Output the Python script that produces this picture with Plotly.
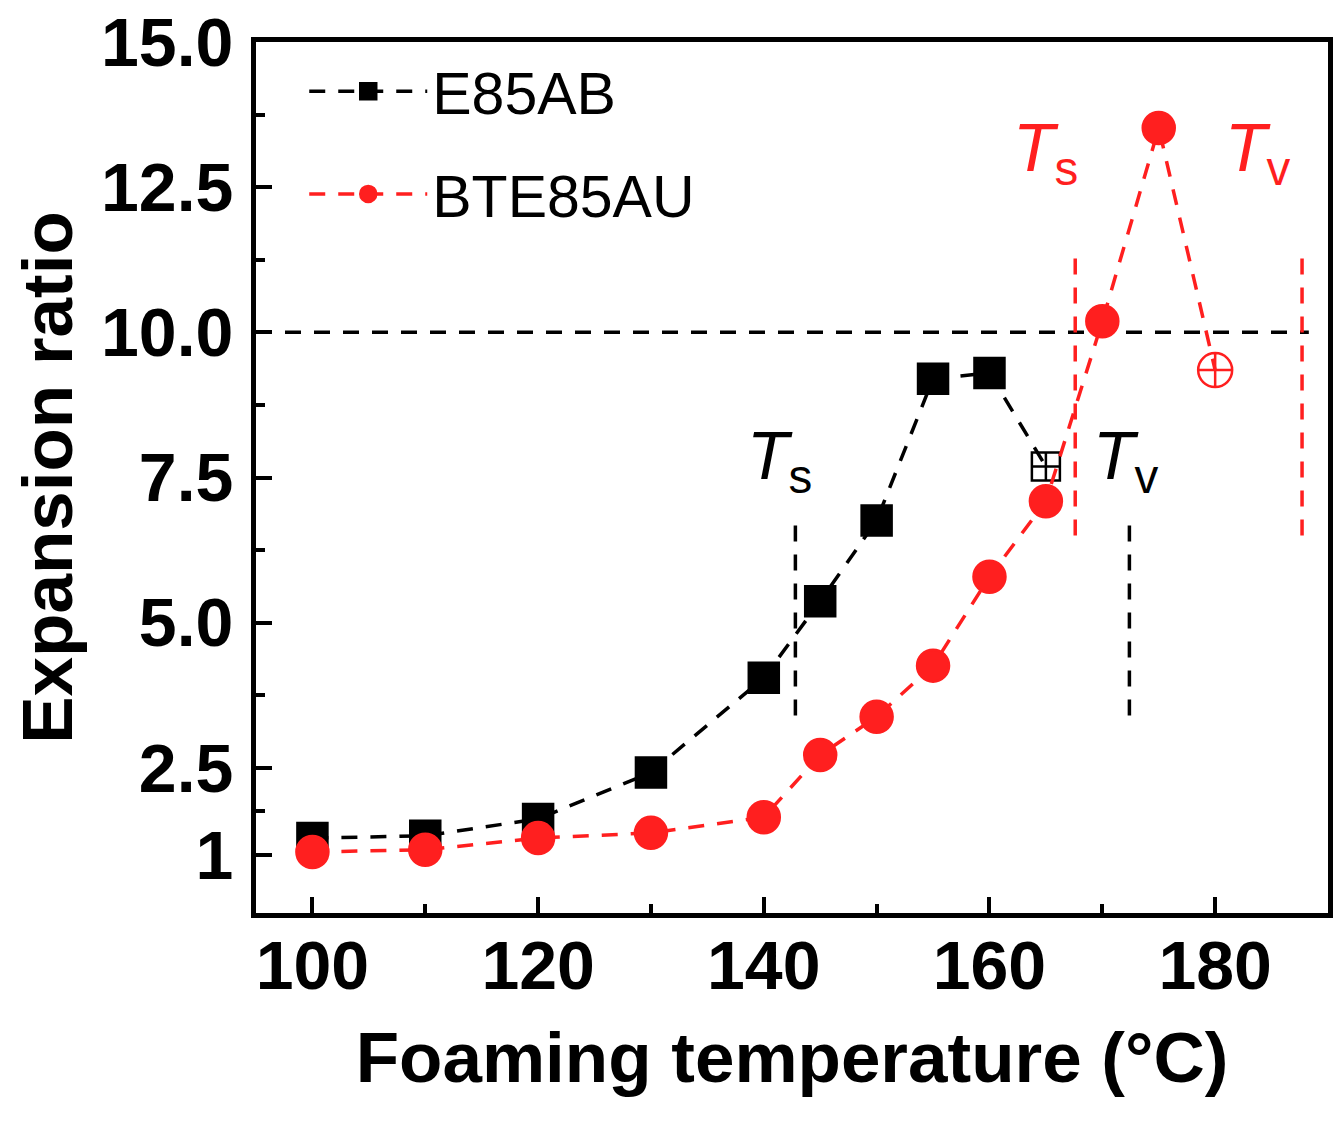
import plotly.graph_objects as go

# foaming temperature (°C)
temp_ab = [100, 110, 120, 130, 140, 145, 150, 155, 160, 165]
ratio_ab = [1.29, 1.33, 1.62, 2.42, 4.05, 5.37, 6.76, 9.2, 9.3, 7.69]

temp_au = [100, 110, 120, 130, 140, 145, 150, 155, 160, 165, 170, 175, 180]
ratio_au = [1.05, 1.09, 1.29, 1.38, 1.65, 2.72, 3.38, 4.26, 5.79, 7.09, 10.19, 13.52, 9.35]

# processing window markers (Ts, Tv)
window_ab = [142.8, 172.4]
window_ab_y = [3.4, 6.7]
window_au = [167.6, 187.7]
window_au_y = [6.5, 11.3]
threshold = 10.0

y_ticks = [1, 2.5, 5.0, 7.5, 10.0, 12.5, 15.0]
y_ticktext = ["1", "2.5", "5.0", "7.5", "10.0", "12.5", "15.0"]
x_ticks = [100, 120, 140, 160, 180]

RED = "#FF1F1F"
FONT = "Liberation Sans, Arial, sans-serif"
DASH = "16px,13px"

sym_ab = ["square"] * (len(temp_ab) - 1) + ["square-cross-open"]
sym_au = ["circle"] * (len(temp_au) - 1) + ["circle-cross-open"]
size_ab = [30] * (len(temp_ab) - 1) + [28]
size_au = [32] * (len(temp_au) - 1) + [34]

fig = go.Figure()

fig.add_trace(go.Scatter(
    x=temp_ab, y=ratio_ab, name="E85AB", mode="lines+markers",
    legendgroup="a",
    line=dict(color="black", width=3.5, dash=DASH),
    marker=dict(symbol=sym_ab, size=size_ab, color="black", opacity=1,
                line=dict(color="black", width=2.5)),
))
fig.add_trace(go.Scatter(
    x=temp_au, y=ratio_au, name="BTE85AU", mode="lines+markers",
    legendgroup="b",
    line=dict(color=RED, width=3.5, dash=DASH),
    marker=dict(symbol=sym_au, size=size_au, color=RED, opacity=1,
                line=dict(color=RED, width=2.5)),
))

# horizontal threshold line
fig.add_shape(type="line", x0=95, x1=188.3, y0=threshold, y1=threshold,
              xref="x", yref="y", layer="below",
              line=dict(color="black", width=3.5, dash=DASH))

for xv in window_ab:
    fig.add_shape(type="line", x0=xv, x1=xv, y0=window_ab_y[0], y1=window_ab_y[1],
                  xref="x", yref="y",
                  line=dict(color="black", width=3.5, dash=DASH))
for xv in window_au:
    fig.add_shape(type="line", x0=xv, x1=xv, y0=window_au_y[0], y1=window_au_y[1],
                  xref="x", yref="y",
                  line=dict(color=RED, width=3.5, dash=DASH))

labels = [
    (141.4, 7.8, "<i>T</i><sub>s</sub>", "black"),
    (172.1, 7.8, "<i>T</i><sub>v</sub>", "black"),
    (165.0, 13.1, "<i>T</i><sub>s</sub>", RED),
    (183.8, 13.1, "<i>T</i><sub>v</sub>", RED),
]
for lx, ly, txt, col in labels:
    fig.add_annotation(x=lx, y=ly, text=txt, showarrow=False,
                       font=dict(family=FONT, size=68, color=col))

axis_common = dict(
    showline=True, linecolor="black", linewidth=5, mirror=True,
    ticks="inside", ticklen=16, tickwidth=4, tickcolor="black",
    showgrid=False, zeroline=False, ticklabeloverflow="allow",
    automargin=False,
    tickfont=dict(family=FONT, size=68, color="black", weight="bold"),
    title_font=dict(family=FONT, size=71, color="black", weight="bold"),
    minor=dict(ticks="inside", ticklen=9, tickwidth=4, tickcolor="black"),
)

fig.update_xaxes(
    range=[95, 190], tickvals=x_ticks,
    minor_tickvals=[110, 130, 150, 170, 190],
    title_text="Foaming temperature (°C)", title_standoff=32,
    ticklabelstandoff=-11,
    **axis_common,
)
fig.update_yaxes(
    range=[0, 15], tickvals=y_ticks, ticktext=y_ticktext,
    minor_tickvals=[1.75, 3.75, 6.25, 8.75, 11.25, 13.75],
    title_text="Expansion ratio", title_standoff=26,
    ticklabelstandoff=4,
    **axis_common,
)

fig.update_layout(
    width=1343, height=1124,
    margin=dict(l=248, r=23, t=34, b=219),
    paper_bgcolor="white", plot_bgcolor="white",
    font=dict(family=FONT, color="black"),
    legend=dict(x=0.045, y=0.995, xanchor="left", yanchor="top",
                font=dict(family=FONT, size=59, color="black"),
                bgcolor="rgba(0,0,0,0)", itemwidth=118,
                traceorder="grouped", tracegroupgap=23),
)

fig.write_html("out.html")
